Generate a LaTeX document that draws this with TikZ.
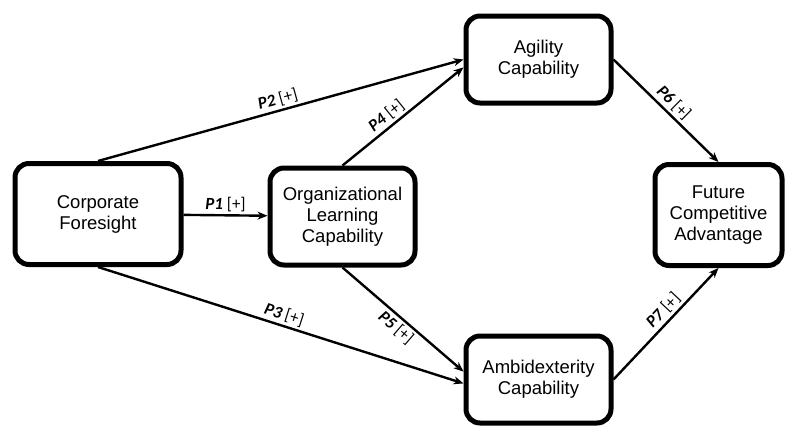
\documentclass[tikz,border=0pt]{standalone}
\usepackage{fontspec}
\setmainfont{Liberation Sans}
\newfontfamily\labfont{Carlito}
\usetikzlibrary{arrows.meta}
\begin{document}
\begin{tikzpicture}[x=1pt,y=-1pt,line join=round,>={Stealth[length=10pt,width=8pt]}]
		\tikzset{box/.style={draw,line width=5pt,rounded corners=14pt,align=center,inner sep=0pt,font=\fontsize{18.5}{21}\selectfont},
		arr/.style={->,line width=2.4pt},
		lab/.style={font=\labfont\fontsize{17}{19}\selectfont,inner sep=2.5pt}}
		\useasboundingbox (0,0) rectangle (785,429);
		\node[box,minimum width=166pt,minimum height=101pt] (cf) at (98,214) {Corporate\\Foresight};
		\node[box,minimum width=145pt,minimum height=97pt] (olc) at (342.5,216.5) {Organizational\\Learning\\Capability};
		\node[box,minimum width=145pt,minimum height=87pt] (agi) at (538.5,59.5) {Agility\\Capability};
		\node[box,minimum width=145pt,minimum height=87pt] (amb) at (538.5,379.5) {Ambidexterity\\Capability};
		\node[box,minimum width=127pt,minimum height=101pt] (fca) at (718.5,215) {Future\\Competitive\\Advantage};
		% propositions
		\draw[arr] (cf) -- node[lab,above] {\textbf{\textit{P1}} [+]} (olc);
		\draw[arr] (cf.north) -- node[lab,above,sloped] {\textbf{\textit{P2}} [+]} (agi.west);
		\draw[arr] (cf.south) -- node[lab,above,sloped] {\textbf{\textit{P3}} [+]} (amb.183);
		\draw[arr] (olc.north) -- node[lab,above,sloped,pos=.42] {\textbf{\textit{P4}} [+]} (agi.186);
		\draw[arr] (olc.south) -- node[lab,below,sloped] {\textbf{\textit{P5}} [+]} (amb.174);
		\draw[arr] (agi.east) -- node[lab,above,sloped] {\textbf{\textit{P6}} [+]} (fca.north);
		\draw[arr] (amb.east) -- node[lab,above,sloped,pos=.55] {\textbf{\textit{P7}} [+]} (fca.south);
\end{tikzpicture}
\end{document}
